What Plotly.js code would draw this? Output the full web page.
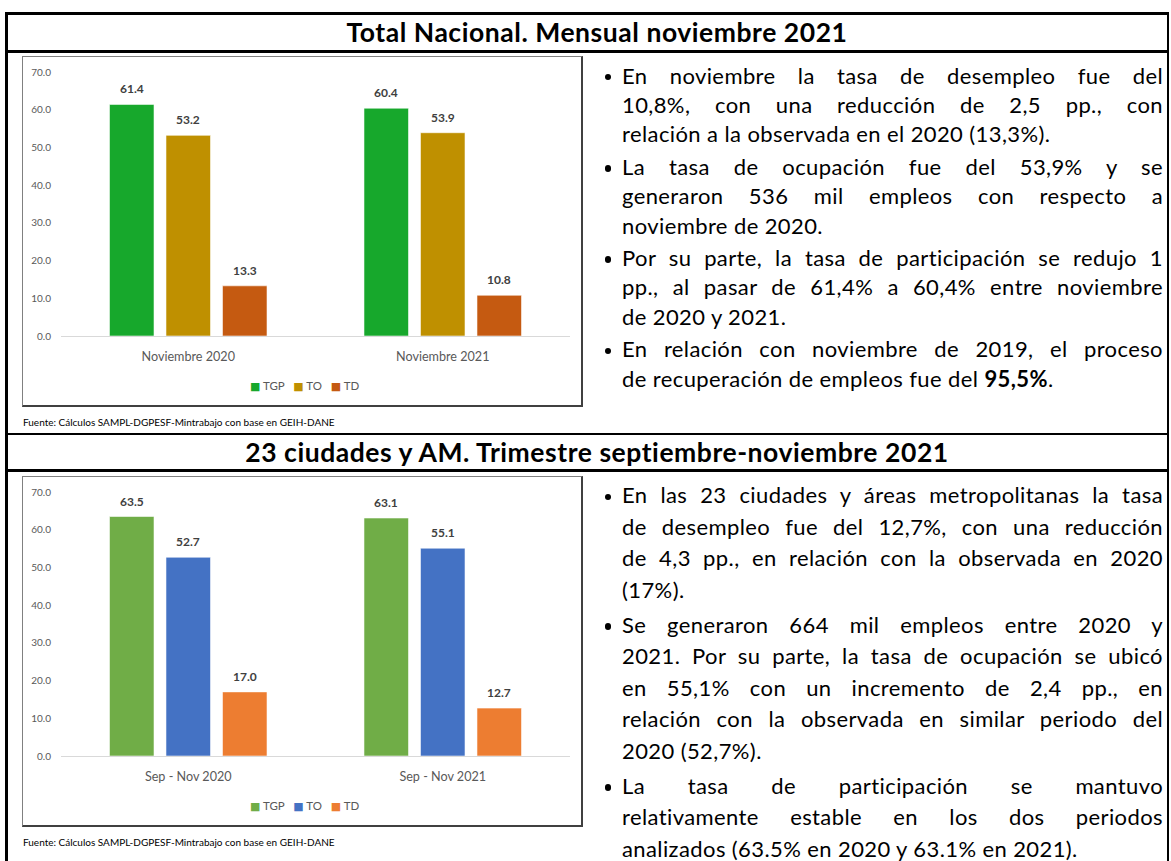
<!DOCTYPE html>
<html><head><meta charset="utf-8">
<script src="https://cdn.plot.ly/plotly-3.0.1.min.js"></script>
<style>
html,body{margin:0;padding:0;background:#fff;}
body{width:1171px;height:861px;overflow:hidden;position:relative;font-family:Lato,"Open Sans",sans-serif;}
.hl{position:absolute;background:#000;}
.title{position:absolute;left:0;width:1194px;text-align:center;font-weight:bold;font-size:26.5px;letter-spacing:0.55px;line-height:30px;color:#000;white-space:nowrap;}
.box{position:absolute;border:1px solid #808080;border-right:2px solid #404040;border-bottom:2px solid #404040;box-sizing:border-box;pointer-events:none;}
.chart{position:absolute;}
.src{position:absolute;left:23px;font-size:10px;line-height:14px;color:#000;white-space:nowrap;}
.col{position:absolute;left:622px;width:541px;font-size:22px;letter-spacing:0.4px;color:#000;}
.para{position:relative;}
.ln{white-space:nowrap;text-align:justify;text-align-last:justify;}
.ln.last,.ln.measure{text-align-last:left;}
.bul{position:absolute;left:-17.5px;width:6.5px;height:6.5px;border-radius:50%;background:#000;}
</style>
</head>
<body>
<div class="hl" style="left:5px;top:12px;width:1164px;height:2.5px"></div>
<div class="hl" style="left:5px;top:50px;width:1164px;height:2.5px"></div>
<div class="hl" style="left:5px;top:432.5px;width:1164px;height:2.5px"></div>
<div class="hl" style="left:5px;top:469px;width:1164px;height:2.5px"></div>
<div class="hl" style="left:5px;top:12px;width:2.5px;height:860px"></div>
<div class="hl" style="left:1166.5px;top:12px;width:2.5px;height:860px"></div>

<div class="title" id="t1" style="top:17px"></div>
<div class="title" id="t2" style="top:436.5px"></div>

<div class="chart" id="c1" style="left:22px;top:56px;width:561px;height:351px"></div>
<div class="box" style="left:22px;top:56px;width:561px;height:351px"></div>
<div class="src" id="s1" style="top:415px"></div>

<div class="chart" id="c2" style="left:22px;top:476px;width:561px;height:351px"></div>
<div class="box" style="left:22px;top:476px;width:561px;height:351px"></div>
<div class="src" id="s2" style="top:835px"></div>

<div class="col" id="col1"></div>
<div class="col" id="col2"></div>

<script>
// ---------- data ----------
var title1 = "Total Nacional. Mensual noviembre 2021";
var title2 = "23 ciudades y AM. Trimestre septiembre-noviembre 2021";
var source = "Fuente: Cálculos SAMPL-DGPESF-Mintrabajo con base en GEIH-DANE";

var seriesNames = ["TGP", "TO", "TD"];

var cats1 = ["Noviembre 2020", "Noviembre 2021"];
var tgp1 = [61.4, 60.4];
var to1  = [53.2, 53.9];
var td1  = [13.3, 10.8];
var colors1 = ["#17a82c", "#bf9000", "#c55a11"];

var cats2 = ["Sep - Nov 2020", "Sep - Nov 2021"];
var tgp2 = [63.5, 63.1];
var to2  = [52.7, 55.1];
var td2  = [17.0, 12.7];
var colors2 = ["#70ad47", "#4472c4", "#ed7d31"];

var yTicks = [0, 10, 20, 30, 40, 50, 60, 70];

var text1 = [
  ["En noviembre la tasa de desempleo fue del", "10,8%, con una reducción de 2,5 pp., con", "relación a la observada en el 2020 (13,3%)."],
  ["La tasa de ocupación fue del 53,9% y se", "generaron 536 mil empleos con respecto a", "noviembre de 2020."],
  ["Por su parte, la tasa de participación se redujo 1", "pp., al pasar de 61,4% a 60,4% entre noviembre", "de 2020 y 2021."],
  ["En relación con noviembre de 2019, el proceso", "de recuperación de empleos fue del <b>95,5%</b>."]
];
var text2 = [
  ["En las 23 ciudades y áreas metropolitanas la tasa", "de desempleo fue del 12,7%, con una reducción", "de 4,3 pp., en relación con la observada en 2020", "(17%)."],
  ["Se generaron 664 mil empleos entre 2020 y", "2021. Por su parte, la tasa de ocupación se ubicó", "en 55,1% con un incremento de 2,4 pp., en", "relación con la observada en similar periodo del", "2020 (52,7%)."],
  ["La tasa de participación se mantuvo", "relativamente estable en los dos periodos", "analizados (63.5% en 2020 y 63.1% en 2021)."]
];

// ---------- text blocks ----------
document.getElementById('t1').textContent = title1;
document.getElementById('t2').textContent = title2;
document.getElementById('s1').textContent = source;
document.getElementById('s2').textContent = source;

function fillCol(id, paras, firstCenter, lineH, paraGap) {
  var col = document.getElementById(id);
  col.style.top = (firstCenter - lineH / 2 - 1.8) + 'px';
  paras.forEach(function (lines, pi) {
    var p = document.createElement('div');
    p.className = 'para';
    if (pi < paras.length - 1) p.style.marginBottom = paraGap + 'px';
    var b = document.createElement('div');
    b.className = 'bul';
    b.style.top = (lineH / 2 + 1.8 - 3.25) + 'px';
    p.appendChild(b);
    lines.forEach(function (l, k) {
      var d = document.createElement('div');
      d.className = 'ln measure';
      d.style.height = lineH + 'px';
      d.style.lineHeight = lineH + 'px';
      var s = document.createElement('span');
      s.innerHTML = l;
      d.appendChild(s);
      p.appendChild(d);
      var w = s.getBoundingClientRect().width;
      var W = col.clientWidth;
      if (w > W - 1) {
        var n = s.textContent.length;
        d.style.letterSpacing = (0.4 - (w - W + 2) / n) + 'px';
      }
      d.className = 'ln' + (k === lines.length - 1 ? ' last' : '');
    });
    col.appendChild(p);
  });
}

// ---------- charts ----------
var BARGAP = 0.334, GROUPGAP = 0.212;
function makeChart(id, cats, series, colors) {
  var traces = seriesNames.map(function (n, i) {
    return {
      type: 'bar', name: n, x: cats, y: series[i],
      marker: {color: colors[i], line: {color: 'rgba(255,255,255,0.55)', width: 1}},
      hoverinfo: 'skip'
    };
  });
  var slot = (1 - BARGAP) / seriesNames.length;
  var ann = [];
  seriesNames.forEach(function (n, i) {
    cats.forEach(function (c, j) {
      ann.push({
        x: j + (i - (seriesNames.length - 1) / 2) * slot, y: series[i][j],
        xref: 'x', yref: 'y', text: '<b>' + series[i][j].toFixed(1) + '</b>',
        showarrow: false, yanchor: 'middle', yshift: 15.5,
        font: {family: 'Lato', size: 12, color: '#404040'}
      });
    });
  });
  var leg = seriesNames.map(function (n, i) {
    return '<span style="color:' + colors[i] + ';font-family:DejaVu Sans;font-size:11px">■</span>\u00a0' + n;
  }).join('\u00a0\u00a0\u00a0');
  ann.push({
    xref: 'paper', yref: 'paper', x: 0.48, y: 0, yanchor: 'middle', yshift: -50,
    showarrow: false, text: leg, font: {family: 'Lato', size: 11.5, color: '#595959'}
  });
  var layout = {
    width: 561, height: 351,
    margin: {l: 39, r: 13, t: 16, b: 71, pad: 0},
    paper_bgcolor: 'rgba(0,0,0,0)', plot_bgcolor: 'rgba(0,0,0,0)',
    barmode: 'group', bargap: BARGAP, bargroupgap: GROUPGAP,
    showlegend: false,
    font: {family: 'Lato', color: '#595959'},
    xaxis: {
      type: 'category', showline: true, linecolor: '#d9d9d9', linewidth: 1,
      ticks: '', showgrid: false, zeroline: false, fixedrange: true,
      tickfont: {family: 'Lato', size: 12.6, color: '#595959'}, ticklabelstandoff: 9
    },
    yaxis: {
      range: [0, 70], tickvals: yTicks, tickformat: '.1f', showgrid: false,
      zeroline: false, showline: false, ticks: '', fixedrange: true,
      tickfont: {family: 'Lato', size: 10, color: '#595959'}, ticklabelstandoff: 9
    },
    annotations: ann
  };
  Plotly.newPlot(id, traces, layout, {staticPlot: true, displayModeBar: false});
}

function init() {
  fillCol('col1', text1, 77, 29.4, 3.1);
  fillCol('col2', text2, 497, 31.5, 3.5);
  makeChart('c1', cats1, [tgp1, to1, td1], colors1);
  makeChart('c2', cats2, [tgp2, to2, td2], colors2);
}
if (document.fonts && document.fonts.ready) {
  document.fonts.load('22px Lato').then(init, init);
} else { init(); }
</script>
</body></html>
